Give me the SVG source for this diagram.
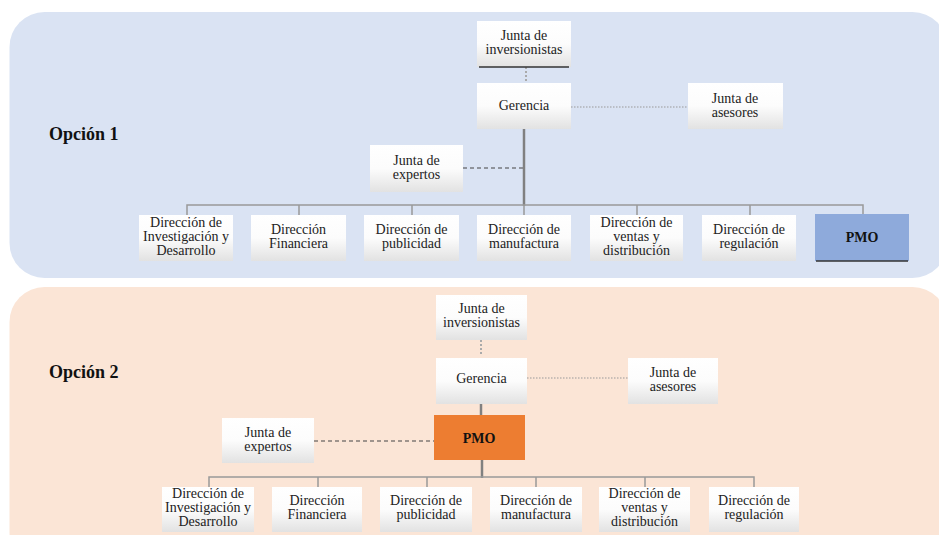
<svg xmlns="http://www.w3.org/2000/svg" width="939" height="535" viewBox="0 0 939 535">
<defs>
<linearGradient id="g" x1="0" y1="0" x2="0" y2="1">
<stop offset="0" stop-color="#ffffff"/>
<stop offset="0.5" stop-color="#fcfcfc"/>
<stop offset="1" stop-color="#e2e2e2"/>
</linearGradient>
<style>
.box{fill:url(#g);}
.t{font-family:"Liberation Serif","Times New Roman",serif;font-size:14px;fill:#222;text-anchor:middle;}
.b{font-family:"Liberation Serif","Times New Roman",serif;font-size:14px;font-weight:bold;fill:#111;text-anchor:middle;}
.opt{font-family:"Liberation Serif","Times New Roman",serif;font-size:18px;font-weight:bold;fill:#111;}
.tree{stroke:#999;stroke-width:1.5;fill:none;}
.trunk{stroke:#808080;stroke-width:2.5;fill:none;}
.dot{stroke:#999;stroke-width:1.2;stroke-dasharray:1.5,1.5;fill:none;}
.dot2{stroke:#aaa;stroke-width:2;stroke-dasharray:2,2;fill:none;}
.dash{stroke:#444;stroke-width:1.2;stroke-dasharray:4,3;fill:none;}
.ul{stroke:#333;stroke-width:1.5;}
</style>
</defs>
<rect width="939" height="535" fill="#ffffff"/>
<rect id="panel1" x="9.5" y="12" width="938" height="266" rx="35" fill="#dae3f3"/>
<rect id="panel2" x="9.5" y="287" width="938" height="280" rx="35" fill="#fbe5d6"/>
<text class="opt" x="49" y="140">Opción 1</text>
<text class="opt" x="49" y="378">Opción 2</text>

<g id="connectors">
<!-- option 1 -->
<line class="dot2" x1="526" y1="67" x2="526" y2="83"/>
<line class="dot" x1="571" y1="107" x2="688" y2="107"/>
<line class="dash" x1="463" y1="168" x2="524" y2="168"/>
<line class="trunk" x1="524" y1="129" x2="524" y2="206"/>
<path class="tree" d="M187 215V205H863V215M299 205V215M412 205V215M524 205V215M637 205V215M750 205V215"/>
<!-- option 2 -->
<line class="dot2" x1="481" y1="340" x2="481" y2="356"/>
<line class="dot" x1="527" y1="378" x2="628" y2="378"/>
<line class="trunk" x1="481" y1="404" x2="481" y2="415"/>
<line class="dash" x1="314" y1="441" x2="434" y2="441"/>
<line class="trunk" x1="482" y1="460" x2="482" y2="478"/>
<path class="tree" d="M209 487V477H754V487M318 477V487M427 477V487M536 477V487M645 477V487"/>
</g>

<!-- Option 1 nodes -->
<g id="o1-inversionistas">
<rect class="box" x="477" y="21" width="94" height="46"/>
<line class="ul" x1="479" y1="67" x2="569" y2="67"/>
<text class="t" x="524" y="40">Junta de</text>
<text class="t" x="524" y="54">inversionistas</text>
</g>
<g id="o1-gerencia">
<rect class="box" x="477" y="83" width="94" height="46"/>
<text class="t" x="524" y="110">Gerencia</text>
</g>
<g id="o1-asesores">
<rect class="box" x="688" y="83" width="95" height="46"/>
<text class="t" x="735" y="103">Junta de</text>
<text class="t" x="735" y="117">asesores</text>
</g>
<g id="o1-expertos">
<rect class="box" x="370" y="145" width="93" height="47"/>
<text class="t" x="416.5" y="165">Junta de</text>
<text class="t" x="416.5" y="179">expertos</text>
</g>
<g id="o1-id">
<rect class="box" x="139" y="215" width="94" height="46"/>
<text class="t" x="186" y="227">Dirección de</text>
<text class="t" x="186" y="241">Investigación y</text>
<text class="t" x="186" y="255">Desarrollo</text>
</g>
<g id="o1-fin">
<rect class="box" x="251" y="215" width="95" height="46"/>
<text class="t" x="298.5" y="234">Dirección</text>
<text class="t" x="298.5" y="248">Financiera</text>
</g>
<g id="o1-pub">
<rect class="box" x="364" y="215" width="95" height="46"/>
<text class="t" x="411.5" y="234">Dirección de</text>
<text class="t" x="411.5" y="248">publicidad</text>
</g>
<g id="o1-man">
<rect class="box" x="477" y="215" width="94" height="46"/>
<text class="t" x="524" y="234">Dirección de</text>
<text class="t" x="524" y="248">manufactura</text>
</g>
<g id="o1-ven">
<rect class="box" x="590" y="215" width="93" height="46"/>
<text class="t" x="636.5" y="227">Dirección de</text>
<text class="t" x="636.5" y="241">ventas y</text>
<text class="t" x="636.5" y="255">distribución</text>
</g>
<g id="o1-reg">
<rect class="box" x="702" y="215" width="94" height="46"/>
<text class="t" x="749" y="234">Dirección de</text>
<text class="t" x="749" y="248">regulación</text>
</g>
<g id="o1-pmo">
<rect x="815" y="214" width="94" height="47" fill="#8eaadb"/>
<line class="ul" x1="816" y1="261" x2="908" y2="261"/>
<text class="b" x="862" y="242">PMO</text>
</g>

<!-- Option 2 nodes -->
<g id="o2-inversionistas">
<rect class="box" x="436" y="295" width="91" height="45"/>
<text class="t" x="481.5" y="313">Junta de</text>
<text class="t" x="481.5" y="327">inversionistas</text>
</g>
<g id="o2-gerencia">
<rect class="box" x="436" y="358" width="91" height="46"/>
<text class="t" x="481.5" y="383">Gerencia</text>
</g>
<g id="o2-asesores">
<rect class="box" x="628" y="358" width="90" height="46"/>
<text class="t" x="673" y="377">Junta de</text>
<text class="t" x="673" y="391">asesores</text>
</g>
<g id="o2-pmo">
<rect x="434" y="415" width="91" height="45" fill="#ed7d31"/>
<text class="b" x="479" y="443">PMO</text>
</g>
<g id="o2-expertos">
<rect class="box" x="222" y="418" width="92" height="45"/>
<text class="t" x="268" y="437">Junta de</text>
<text class="t" x="268" y="451">expertos</text>
</g>
<g id="o2-id">
<rect class="box" x="162" y="487" width="92" height="45"/>
<text class="t" x="208" y="498">Dirección de</text>
<text class="t" x="208" y="512">Investigación y</text>
<text class="t" x="208" y="526">Desarrollo</text>
</g>
<g id="o2-fin">
<rect class="box" x="272" y="487" width="90" height="45"/>
<text class="t" x="317" y="505">Dirección</text>
<text class="t" x="317" y="519">Financiera</text>
</g>
<g id="o2-pub">
<rect class="box" x="380" y="487" width="92" height="45"/>
<text class="t" x="426" y="505">Dirección de</text>
<text class="t" x="426" y="519">publicidad</text>
</g>
<g id="o2-man">
<rect class="box" x="490" y="487" width="92" height="45"/>
<text class="t" x="536" y="505">Dirección de</text>
<text class="t" x="536" y="519">manufactura</text>
</g>
<g id="o2-ven">
<rect class="box" x="599" y="487" width="91" height="45"/>
<text class="t" x="644.5" y="498">Dirección de</text>
<text class="t" x="644.5" y="512">ventas y</text>
<text class="t" x="644.5" y="526">distribución</text>
</g>
<g id="o2-reg">
<rect class="box" x="709" y="487" width="90" height="45"/>
<text class="t" x="754" y="505">Dirección de</text>
<text class="t" x="754" y="519">regulación</text>
</g>
</svg>
